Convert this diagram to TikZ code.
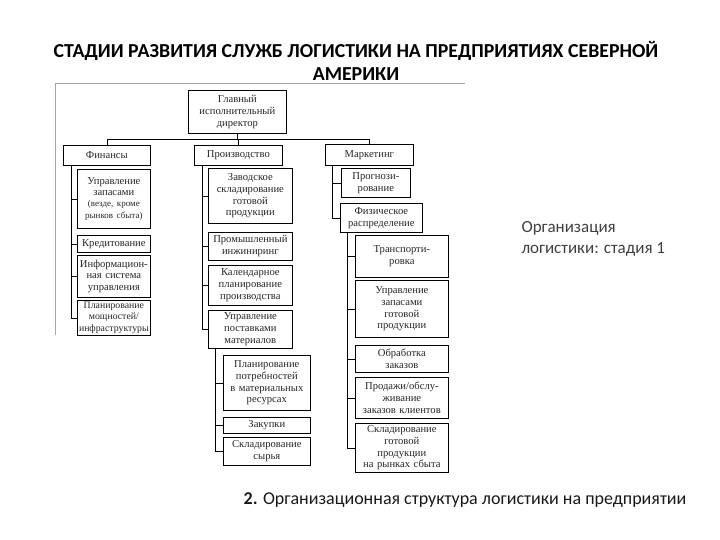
\documentclass[tikz,border=0pt]{standalone}
\usepackage{fontspec}
\setmainfont{Liberation Serif}
\newfontfamily\carl{Carlito}
\begin{document}
\begin{tikzpicture}[x=1pt,y=-1pt,
  box/.style={draw=black,line width=0.7pt,anchor=north west,inner sep=0pt,align=center,
    font=\fontsize{10.6}{11.8}\selectfont,text=black!85},
  conn/.style={draw=black,line width=0.6pt},
  frame/.style={draw=gray!70,line width=0.6pt}]
\useasboundingbox (0,0) rectangle (720,540);
% title
\node[font=\carl\bfseries\fontsize{19.8}{23}\selectfont,align=center] (title) at (356,61)
  {СТАДИИ РАЗВИТИЯ СЛУЖБ ЛОГИСТИКИ НА ПРЕДПРИЯТИЯХ СЕВЕРНОЙ\\АМЕРИКИ};
% frame remnants
\draw[frame] (55,335) -- (55,83) -- (465,83);
% boxes
\newcommand{\bx}[6]{\node[box,minimum width=#4,minimum height=#5,text width=#4] (#1) at (#2,#3) {#6};}
\bx{ceo}{188}{90}{98}{43}{Главный\\исполнительный\\директор}
\bx{fin}{63}{145}{87}{20}{Финансы}
\bx{prod}{194}{145}{88}{20}{Производство}
\bx{mkt}{325}{144}{88}{21}{Маркетинг}
% finance
\bx{f1}{77}{169}{73}{59}{Управление\\запасами\\{\fontsize{9}{11}\selectfont (везде, кроме\\рынков сбыта)}}
\bx{f2}{77}{235}{73}{17}{Кредитование}
\bx{f3}{77}{255}{73}{42}{Информацион-\\ная система\\управления}
\bx{f4}{77}{300}{73}{35}{\fontsize{9.8}{11}\selectfont Планирование\\мощностей/\\инфраструктуры}
% production
\bx{p1}{208}{168}{84}{55}{Заводское\\складирование\\готовой\\продукции}
\bx{p2}{208}{232}{84}{28}{Промышленный\\инжиниринг}
\bx{p3}{208}{265}{84}{40}{Календарное\\планирование\\производства}
\bx{p4}{208}{310}{84}{38}{Управление\\поставками\\материалов}
\bx{p5}{223}{355}{87}{55}{Планирование\\потребностей\\в материальных\\ресурсах}
\bx{p6}{223}{417}{87}{16}{Закупки}
\bx{p7}{223}{437}{87}{28}{Складирование\\сырья}
% marketing
\bx{m1}{341}{168}{69}{29}{Прогнози-\\рование}
\bx{m2}{340}{203}{82}{29}{Физическое\\распределение}
\bx{m3}{355}{235}{93}{42}{Транспорти-\\ровка}
\bx{m4}{355}{280}{93}{57}{Управление\\запасами\\готовой\\продукции}
\bx{m5}{355}{345}{93}{27}{Обработка\\заказов}
\bx{m6}{355}{377}{93}{41}{Продажи/обслу-\\живание\\заказов клиентов}
\bx{m7}{355}{423}{93}{49}{Складирование\\готовой\\продукции\\на рынках сбыта}
% top level connectors
\coordinate (bus) at (0,139);
\draw[conn] (ceo.south) -- (ceo.south |- bus);
\draw[conn] (fin.north) |- (mkt.north |- bus) -- (mkt.north);
\draw[conn] (prod.north) -- (prod.north |- bus);
% finance spine
\coordinate (fs) at (71,165);
\draw[conn] (fs) |- (f4.west);
\foreach \n in {f1,f2,f3} \draw[conn] (fs |- \n.west) -- (\n.west);
% production spine
\coordinate (ps) at (202,165);
\draw[conn] (ps) |- (p4.west);
\foreach \n in {p1,p2,p3} \draw[conn] (ps |- \n.west) -- (\n.west);
\coordinate (pss) at (215,348);
\draw[conn] (pss) |- (p7.west);
\foreach \n in {p5,p6} \draw[conn] (pss |- \n.west) -- (\n.west);
% marketing spine
\coordinate (ms) at (332,165);
\draw[conn] (ms) |- (m2.west);
\draw[conn] (ms |- m1.west) -- (m1.west);
\coordinate (mss) at (347,232);
\draw[conn] (mss) |- (m7.west);
\foreach \n in {m3,m4,m5,m6} \draw[conn] (mss |- \n.west) -- (\n.west);
% side and bottom texts
\node[font=\carl\fontsize{17}{20.5}\selectfont,text=black!75,align=left,anchor=north west] (side) at (518,218)
  {Организация\\логистики: стадия 1};
\node[font=\carl\fontsize{18}{20}\selectfont,text=black!90,anchor=center] (cap) at (465,500)
  {\textbf{2.} Организационная структура логистики на предприятии};
\end{tikzpicture}
\end{document}
